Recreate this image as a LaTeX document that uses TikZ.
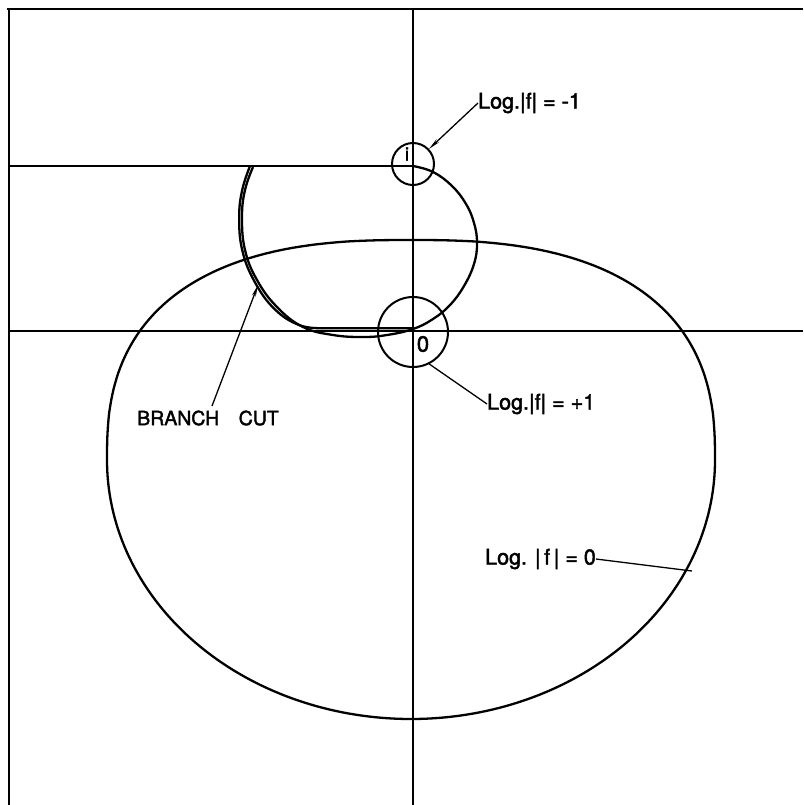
\documentclass[tikz,border=0pt]{standalone}
\usepackage{fontspec}
\setmainfont{TeX Gyre Heros}
\newfontfamily\lblfont[FakeBold=2]{TeX Gyre Heros}
\usetikzlibrary{arrows.meta}
\begin{document}
\begin{tikzpicture}[x=1pt,y=-1pt,
  frameline/.style={line width=1.8pt},
  curveline/.style={line width=2.3pt},
  leader/.style={line width=1.3pt},
  lbl/.style={font=\lblfont\fontsize{21.5}{23}\selectfont, inner sep=0pt, anchor=west},
  ring/.style={circle, draw, line width=2pt, inner sep=0pt}]
\useasboundingbox (0,0) rectangle (803,805);
% frame and axes
\draw[frameline] (7,9) -- (803,9);
\draw[frameline] (9,9) -- (9,805);
\draw[frameline] (413,9) -- (413,805);
\draw[frameline] (9,331) -- (803,331);
\draw[frameline] (9,166) -- (413,166);
% small circles
\node[ring, minimum size=42pt] (ci) at (413,164) {};
\node[ring, minimum size=70pt] (c0) at (413,332) {};
\node[inner sep=0pt, font=\lblfont\fontsize{19}{21}\selectfont] (ilab) at (407,154) {i};
\node[inner sep=0pt, font=\lblfont\fontsize{22}{24}\selectfont] (zlab) at (423,344) {0};
% curve through i and 0
\draw[curveline] plot[smooth, tension=0.7] coordinates {(413,166) (433,172) (452,186) (466,204) (474,223) (477,243) (474,264) (464,286) (450,305) (433,319) (413,329) (387,335) (363,337) (333,335) (303,327) (277,307) (257,280) (245,250) (242,217) (245,190) (253,167)};
% branch cut (doubled line)
\draw[curveline] plot[smooth, tension=0.7] coordinates {(250,166) (242.2,190) (239.2,217) (242.2,250) (254.5,281.5) (274.5,309) (299,325) (322,328.2)} -- (413,328.2);
% Log|f| = 0 curve: superellipse top, ellipse bottom
\draw[curveline] plot[domain=0:180, samples=121, smooth]
    ({411+304*sign(cos(\x))*pow(abs(cos(\x))+0.000001,0.78)},{460-220*pow(sin(\x)+0.000001,0.78)})
  -- plot[domain=180:360, samples=121, smooth]
    ({411+304*cos(\x)},{460-259*sin(\x)}) -- cycle;
% labels
\node[lbl] (m1) at (478,103) {Log.|f| = -1};
\node[lbl] (p1) at (487,404) {Log.|f| = +1};
\node[lbl] (z0) at (485,559) {Log. |\,f\,| = 0};
\node[lbl, font=\lblfont\fontsize{19.5}{21}\selectfont] (bc) at (137,418) {BRANCH\quad CUT};
% leaders
\coordinate (bcs) at (212,406);
\coordinate (bct) at (258,285);
\coordinate (zc) at (692,571);
\draw[leader, -{Stealth[length=12pt,width=4pt]}] (m1.west) -- (ci);
\draw[leader] (c0.-63) -- (p1.west);
\draw[leader] (z0.east) -- (zc);
\draw[leader, -{Stealth[length=12pt,width=4pt]}] (bcs) -- (bct);
\end{tikzpicture}
\end{document}
